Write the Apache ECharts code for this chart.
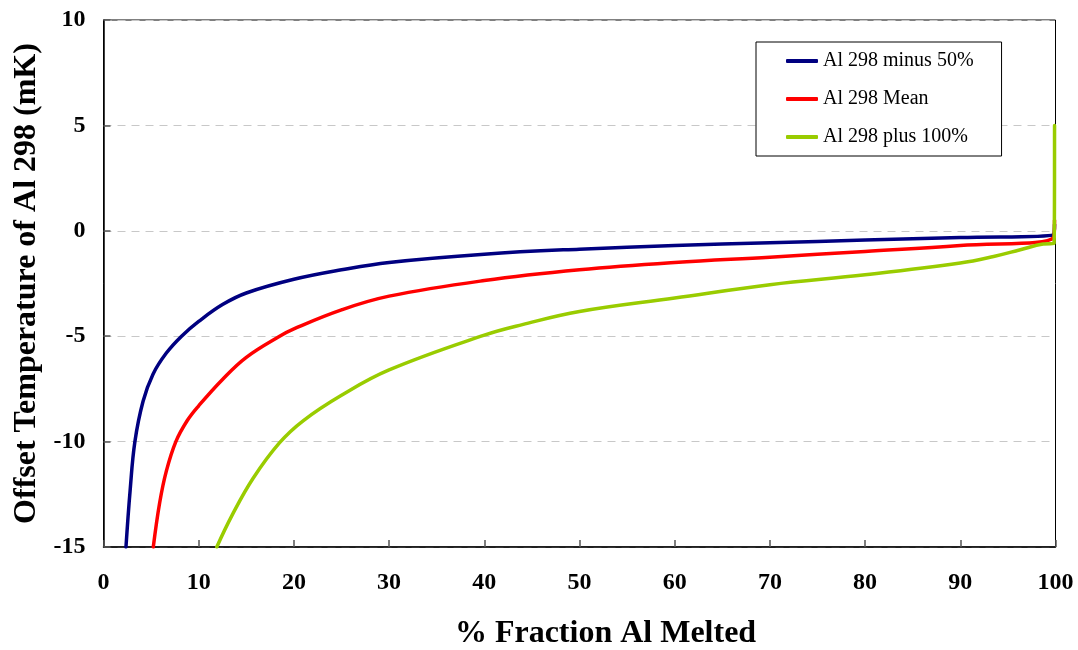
<!DOCTYPE html>
<html>
<head>
<meta charset="utf-8">
<script src="https://cdn.jsdelivr.net/npm/echarts@6/dist/echarts.min.js"></script>
<style>
  html, body { margin: 0; padding: 0; background: #ffffff; }
  #chart { width: 1078px; height: 650px; }
</style>
</head>
<body>
<div id="chart"></div>
<script>
// Axis ticks
const xTicks = [0, 10, 20, 30, 40, 50, 60, 70, 80, 90, 100];
const yTicks = [-15, -10, -5, 0, 5, 10];

// Series names
const seriesNames = ['Al 298 minus 50%', 'Al 298 Mean', 'Al 298 plus 100%'];

// Al 298 minus 50%: fraction melted (%) and offset temperature (mK)
const minusX = [2.36, 2.8, 3.3, 4.15, 5.2, 6.6, 8.2, 10, 12.5, 15, 20, 25, 30, 40, 50, 60, 70, 80, 90, 99.8, 99.9];
const minusY = [-15, -12.3, -10, -8.1, -6.8, -5.8, -5, -4.3, -3.5, -2.95, -2.3, -1.85, -1.5, -1.11, -0.87, -0.70, -0.57, -0.44, -0.32, -0.19, 0.3];

// Al 298 Mean
const meanX = [5.23, 5.9, 6.6, 7.6, 8.8, 10, 12.5, 15, 18.5, 20, 25, 30, 40, 50, 60, 70, 80, 90, 99.8, 99.9];
const meanY = [-15, -12.9, -11.4, -10.0, -9.0, -8.3, -7.05, -6.0, -5.0, -4.65, -3.75, -3.1, -2.36, -1.85, -1.50, -1.25, -0.98, -0.70, -0.32, 0.5];

// Al 298 plus 100%
const plusX = [11.9, 13.5, 15.7, 18.5, 21, 25, 30, 40, 44, 50, 60, 70, 80, 90, 93.5, 96.3, 98.7, 99.85, 99.9];
const plusY = [-15, -13.5, -11.75, -10.05, -9.0, -7.8, -6.6, -4.95, -4.45, -3.83, -3.19, -2.56, -2.09, -1.53, -1.22, -0.90, -0.63, -0.6, 5];

const colors = ['#000080', '#ff0000', '#99cc00'];

function pairs(xs, ys) {
  return xs.map((x, i) => [x, ys[i]]);
}

const serif = '"Liberation Serif", "Times New Roman", serif';

const chart = echarts.init(document.getElementById('chart'), null, { renderer: 'canvas' });

const lineSeries = [
  pairs(minusX, minusY),
  pairs(meanX, meanY),
  pairs(plusX, plusY)
].map((data, i) => ({
  name: seriesNames[i],
  type: 'line',
  data: data,
  showSymbol: false,
  smooth: 0.4,
  clip: true,
  lineStyle: { color: colors[i], width: 3.5, cap: 'round', join: 'round' },
  itemStyle: { color: colors[i] },
  z: 2 + i
}));

chart.setOption({
  backgroundColor: '#ffffff',
  animation: false,
  color: colors,
  grid: {
    left: 103.5,
    right: 22.5,
    top: 20,
    bottom: 103,
    outerBoundsMode: 'none',
    containLabel: false,
    show: true,
    borderColor: '#000000',
    borderWidth: 1,
    backgroundColor: 'transparent'
  },
  legend: {
    left: 756,
    top: 42,
    orient: 'vertical',
    backgroundColor: '#ffffff',
    borderColor: '#000000',
    borderWidth: 1,
    padding: [9, 28, 9, 30],
    itemGap: 18,
    itemWidth: 32,
    itemHeight: 4,
    icon: 'roundRect',
    textStyle: { fontFamily: serif, fontSize: 20, color: '#000000' },
    data: seriesNames
  },
  xAxis: {
    type: 'value',
    min: xTicks[0],
    max: xTicks[xTicks.length - 1],
    interval: 10,
    name: '% Fraction Al Melted',
    nameLocation: 'middle',
    nameGap: 71,
    nameTextStyle: {
      fontFamily: serif, fontSize: 32, fontWeight: 'bold', color: '#000000',
      padding: [0, 0, 0, 52]
    },
    axisLine: { show: true, onZero: false, lineStyle: { color: '#000000', width: 1.5 } },
    axisTick: { show: true, inside: true, length: 7, lineStyle: { color: '#555555', width: 1.5 } },
    axisLabel: {
      margin: 24,
      fontFamily: serif,
      fontSize: 24,
      fontWeight: 'bold',
      color: '#000000',
      showMinLabel: true,
      showMaxLabel: true
    },
    splitLine: { show: false }
  },
  yAxis: {
    type: 'value',
    min: yTicks[0],
    max: yTicks[yTicks.length - 1],
    interval: 5,
    name: 'Offset Temperature of Al 298 (mK)',
    nameLocation: 'middle',
    nameRotate: 90,
    nameGap: 54,
    nameTextStyle: { fontFamily: serif, fontSize: 32, fontWeight: 'bold', color: '#000000' },
    axisLine: { show: true, onZero: false, lineStyle: { color: '#000000', width: 1.5 } },
    axisTick: { show: true, inside: true, length: 7, lineStyle: { color: '#555555', width: 1.5 } },
    axisLabel: {
      margin: 18,
      fontFamily: serif,
      fontSize: 24,
      fontWeight: 'bold',
      color: '#000000'
    },
    splitLine: { show: true, lineStyle: { color: '#c8c8c8', type: [8, 6], width: 1 } }
  },
  series: lineSeries
});
</script>
</body>
</html>
